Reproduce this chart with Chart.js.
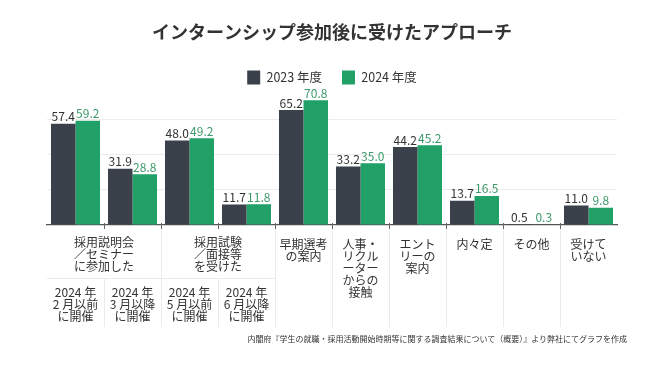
<!DOCTYPE html>
<html lang="ja">
<head>
<meta charset="utf-8">
<title>インターンシップ参加後に受けたアプローチ</title>
<script src="https://cdn.jsdelivr.net/npm/chart.js@4/dist/chart.umd.min.js"></script>
<style>
  html, body { margin: 0; padding: 0; background: #fff; }
  .wrap { position: relative; width: 670px; height: 370px; }
  .source {
    position: absolute; right: 43px; top: 333px;
    font: 8px "Noto Sans CJK JP", sans-serif; color: #333; white-space: nowrap;
  }
</style>
</head>
<body>
<div class="wrap">
  <canvas id="chart" width="670" height="370"></canvas>
  <div class="source">内閣府『学生の就職・採用活動開始時期等に関する調査結果について（概要）』より弊社にてグラフを作成</div>
</div>
<script>
/* ── Data ───────────────────────────────────────────── */
const categories = [
  ['2024 年', '2 月以前', 'に開催'],
  ['2024 年', '3 月以降', 'に開催'],
  ['2024 年', '5 月以前', 'に開催'],
  ['2024 年', '6 月以降', 'に開催'],
  ['早期選考', 'の案内'],
  ['人事・', 'リクル', 'ーター', 'からの', '接触'],
  ['エント', 'リーの', '案内'],
  ['内々定'],
  ['その他'],
  ['受けて', 'いない'],
];
const groupLabels = [
  ['採用説明会', '／セミナー', 'に参加した'],
  ['採用試験', '／面接等', 'を受けた'],
];
const groupFirst = [0, 2];   // first category index of each group (2 categories each)
const seriesNames = ['2023 年度', '2024 年度'];
const values2023 = [57.4, 31.9, 48.0, 11.7, 65.2, 33.2, 44.2, 13.7, 0.5, 11.0];
const values2024 = [59.2, 28.8, 49.2, 11.8, 70.8, 35.0, 45.2, 16.5, 0.3, 9.8];

const DARK  = '#3a414b';
const GREEN = '#21a067';
const LABEL_COLORS = ['#333', '#3d9a6a'];
const FONT = '"Noto Sans CJK JP", "Noto Sans", sans-serif';

/* ── Value labels above bars ────────────────────────── */
const valueLabels = {
  id: 'valueLabels',
  afterDatasetsDraw(chart) {
    const ctx = chart.ctx;
    ctx.save();
    ctx.font = `12px ${FONT}`;
    ctx.textAlign = 'center';
    ctx.textBaseline = 'bottom';
    chart.data.datasets.forEach((ds, di) => {
      ctx.fillStyle = LABEL_COLORS[di];
      chart.getDatasetMeta(di).data.forEach((bar, i) => {
        ctx.fillText(ds.data[i].toFixed(1), bar.x, bar.y - 1);
      });
    });
    ctx.restore();
  }
};

/* ── Group headers + separators under the axis ──────── */
const groupAxis = {
  id: 'groupAxis',
  afterDraw(chart) {
    const ctx = chart.ctx;
    const x = chart.scales.x;
    const base = chart.chartArea.bottom;
    const half = (x.getPixelForValue(1) - x.getPixelForValue(0)) / 2;
    const split = base + 53, end = base + 102;
    ctx.save();
    ctx.strokeStyle = '#ebebeb';
    ctx.lineWidth = 1;
    // vertical separators between categories
    for (let i = 1; i < categories.length; i++) {
      const px = Math.round(x.getPixelForValue(i) - half) + 0.5;
      const inGroup = groupFirst.some(g => i === g + 1);
      ctx.beginPath();
      ctx.moveTo(px, inGroup ? split : base + 4);
      ctx.lineTo(px, end);
      ctx.stroke();
    }
    // horizontal line under group headers
    const gl = x.getPixelForValue(0) - half;
    const gr = x.getPixelForValue(3) + half;
    ctx.beginPath();
    ctx.moveTo(gl, split + 0.5);
    ctx.lineTo(gr, split + 0.5);
    ctx.stroke();

    // small tick marks crossing the axis
    ctx.strokeStyle = '#666';
    for (let i = 1; i < categories.length; i++) {
      const px = Math.round(x.getPixelForValue(i) - half) + 0.5;
      ctx.beginPath();
      ctx.moveTo(px, base - 2);
      ctx.lineTo(px, base + 4);
      ctx.stroke();
    }

    ctx.fillStyle = '#333';
    ctx.font = `12px ${FONT}`;
    ctx.textAlign = 'center';
    ctx.textBaseline = 'middle';
    groupLabels.forEach((lines, g) => {
      const i = groupFirst[g];
      const cx = (x.getPixelForValue(i) + x.getPixelForValue(i + 1)) / 2;
      lines.forEach((t, k) => ctx.fillText(t, cx, base + 17 + k * 12));
    });
    ctx.restore();
  }
};

new Chart(document.getElementById('chart'), {
  type: 'bar',
  data: {
    labels: categories,
    datasets: [
      { label: seriesNames[0], data: values2023, backgroundColor: DARK },
      { label: seriesNames[1], data: values2024, backgroundColor: GREEN },
    ],
  },
  options: {
    responsive: false,
    animation: false,
    devicePixelRatio: 1,
    layout: { padding: { left: 47, right: 53, top: 0, bottom: 0 } },
    datasets: { bar: { categoryPercentage: 0.86, barPercentage: 1.0 } },
    plugins: {
      title: {
        display: true,
        text: 'インターンシップ参加後に受けたアプローチ',
        color: '#333',
        font: { family: FONT, size: 18, weight: 'bold', lineHeight: 1.2 },
        padding: { top: 21, bottom: 8 },
      },
      legend: {
        display: true,
        labels: {
          color: '#333',
          font: { family: FONT, size: 12.5 },
          boxWidth: 13,
          boxHeight: 14,
          padding: 20,
        },
      },
      tooltip: { enabled: false },
    },
    scales: {
      x: {
        grid: { display: false },
        border: { color: '#555', width: 1.2 },
        ticks: {
          color: '#333',
          font: { family: FONT, size: 12, lineHeight: 1 },
          padding: 5,
          maxRotation: 0,
          autoSkip: false,
          callback: (v, i) => groupFirst.some(g => i === g || i === g + 1)
            ? ['', '', '', '', ...categories[i]]
            : categories[i],
        },
        afterFit: s => { s.height = 145; },
      },
      y: {
        min: 0,
        max: 74,
        ticks: { display: false, stepSize: 20 },
        border: { display: false },
        grid: {
          drawTicks: false,
          color: c => (c.tick.value > 0 && c.tick.value % 20 === 0) ? '#ececec' : 'transparent',
        },
      },
    },
  },
  plugins: [valueLabels, groupAxis],
});
</script>
</body>
</html>
